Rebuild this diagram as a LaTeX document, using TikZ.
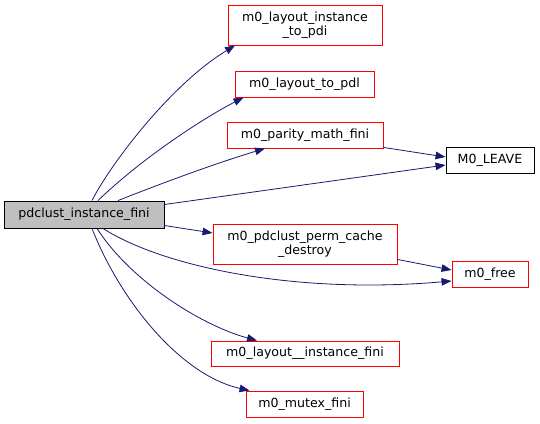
\documentclass[tikz,border=0pt]{standalone}
\usepackage{fontspec}
\setmainfont{DejaVu Sans}
\usetikzlibrary{arrows.meta}
\definecolor{edgeblue}{HTML}{191970}
\definecolor{mainfill}{HTML}{BFBFBF}
\begin{document}
\begin{tikzpicture}[x=1pt,y=-1pt,
  box/.style={draw=red,line width=0.9pt,fill=white,inner sep=0pt,align=center,font=\fontsize{12.6}{14.5}\selectfont},
  blackbox/.style={box,draw=black},
  mainbox/.style={box,draw=black,fill=mainfill},
  edge/.style={draw=edgeblue,line width=0.8pt,-{Triangle[length=10pt,width=7.5pt]}}]
\useasboundingbox (0,0) rectangle (540,423);
\node[mainbox,minimum width=160pt,minimum height=27pt] (main) at (84,214.5) {pdclust\_instance\_fini};
\node[box,minimum width=154pt,minimum height=40pt] (pdi) at (305,25) {m0\_layout\_instance\\\_to\_pdi};
\node[box,minimum width=139pt,minimum height=26pt] (pdl) at (304.5,84) {m0\_layout\_to\_pdl};
\node[box,minimum width=156pt,minimum height=26pt] (par) at (305,135) {m0\_parity\_math\_fini};
\node[blackbox,minimum width=88pt,minimum height=26pt] (leave) at (490,160) {M0\_LEAVE};
\node[box,minimum width=184pt,minimum height=40pt] (perm) at (305,244) {m0\_pdclust\_perm\_cache\\\_destroy};
\node[box,minimum width=76pt,minimum height=26pt] (free) at (490,274) {m0\_free};
\node[box,minimum width=188pt,minimum height=25pt] (lif) at (305,353.5) {m0\_layout\_\_instance\_fini};
\node[box,minimum width=117pt,minimum height=26pt] (mtx) at (304.5,404) {m0\_mutex\_fini};

\draw[edge] ([xshift=8pt]main.north) .. controls (110,165) and (170,85) .. ([xshift=-70pt]pdi.south);
\draw[edge] ([xshift=14pt]main.north) .. controls (140,160) and (200,120) .. ([xshift=-61pt]pdl.south);
\draw[edge] ([xshift=34pt]main.north) .. controls (170,180) and (220,162) .. ([xshift=-40pt]par.south);
\draw[edge] ([yshift=10pt]main.east) -- ([yshift=-5pt]leave.west);
\draw[edge] ([yshift=-11pt]main.east) -- ([yshift=11pt]perm.west);
\draw[edge] ([xshift=19pt]main.south) .. controls (160,265) and (290,295) .. ([yshift=-7pt]free.west);
\draw[edge] ([xshift=13pt]main.south) .. controls (130,280) and (200,325) .. ([xshift=-48pt]lif.north);
\draw[edge] ([xshift=8pt]main.south) .. controls (120,300) and (180,375) .. ([xshift=4pt]mtx.north west);
\draw[edge] ([yshift=1pt]par.south east) -- ([yshift=3pt]leave.west);
\draw[edge] ([yshift=5pt]perm.south east) -- ([yshift=4pt]free.west);
\end{tikzpicture}
\end{document}
